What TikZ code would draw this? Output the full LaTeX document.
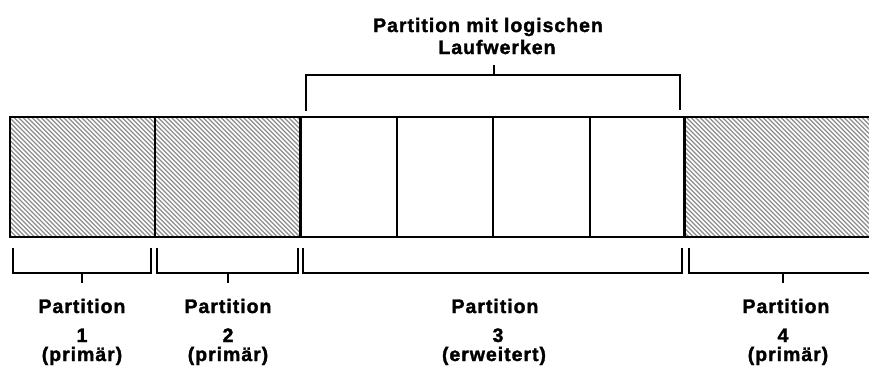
\documentclass[tikz,border=0pt]{standalone}
\usepackage{fontspec}
\setmainfont{Liberation Sans}
\newfontfamily\lblfont[LetterSpace=5,BoldFeatures={FakeBold=1.6}]{Liberation Sans}
\begin{document}
\begin{tikzpicture}[x=1pt,y=-1pt,
  seg/.style={draw=black, line width=1.6pt, minimum height=120pt, inner sep=0pt, anchor=west},
  thickdiv/.style={line width=3pt},
  lbl/.style={font=\lblfont\bfseries\fontsize{19.5}{22}\selectfont, anchor=base, inner sep=0pt},
  brk/.style={line width=1.4pt},
  hatch/.style={draw=black!45, line width=1.25pt}
]
\useasboundingbox (0,0) rectangle (869,367);
% hatching of the primary partitions
\begin{scope}
  \clip (9,117) rectangle (300,237);
  \foreach \x in {-126,-121.5,...,305} \draw[hatch] (\x,117) -- (\x+120,237);
\end{scope}
\begin{scope}
  \clip (684,117) rectangle (875,237);
  \foreach \x in {560,564.5,...,880} \draw[hatch] (\x,117) -- (\x+120,237);
\end{scope}
% segments
\node[seg, minimum width=145pt] (s1) at (9,177) {};
\node[seg, minimum width=146pt] (s2) at (154,177) {};
\node[seg, minimum width=96pt] (l1) at (300,177) {};
\node[seg, minimum width=96pt] (l2) at (396,177) {};
\node[seg, minimum width=97pt] (l3) at (492,177) {};
\node[seg, minimum width=95pt] (l4) at (589,177) {};
\node[seg, minimum width=200pt] (s4) at (684,177) {};
\draw[thickdiv] (l1.north west) -- (l1.south west);
\draw[thickdiv] (s4.north west) -- (s4.south west);
% top bracket
\draw[brk] (306,111) -- (306,75) -- (680,75) -- (680,110);
\draw[brk] (494,75) -- (494,65);
\node[lbl] (t1) at (488,32) {Partition mit logischen};
\node[lbl] (t2) at (497,54) {Laufwerken};
% bottom brackets
\draw[brk] (13,248) -- (13,273) -- (151,273) -- (151,248);
\draw[brk] (82,273) -- (82,283);
\draw[brk] (157,248) -- (157,273) -- (298,273) -- (298,248);
\draw[brk] (228,273) -- (228,283);
\draw[brk] (303,248) -- (303,273) -- (682,273) -- (682,248);
\draw[brk] (689,248) -- (689,273) -- (875,273);
\draw[brk] (783,273) -- (783,283);
% labels
\node[lbl] (p1a) at (82,313) {Partition};
\node[lbl] (p1b) at (82,342) {1};
\node[lbl] (p1c) at (82,361) {(primär)};
\node[lbl] (p2a) at (228,313) {Partition};
\node[lbl] (p2b) at (228,342) {2};
\node[lbl] (p2c) at (228,361) {(primär)};
\node[lbl] (p3a) at (495,313) {Partition};
\node[lbl] (p3b) at (498,342) {3};
\node[lbl] (p3c) at (494,361) {(erweitert)};
\node[lbl] (p4a) at (786,313) {Partition};
\node[lbl] (p4b) at (783,342) {4};
\node[lbl] (p4c) at (788,361) {(primär)};
\end{tikzpicture}
\end{document}
